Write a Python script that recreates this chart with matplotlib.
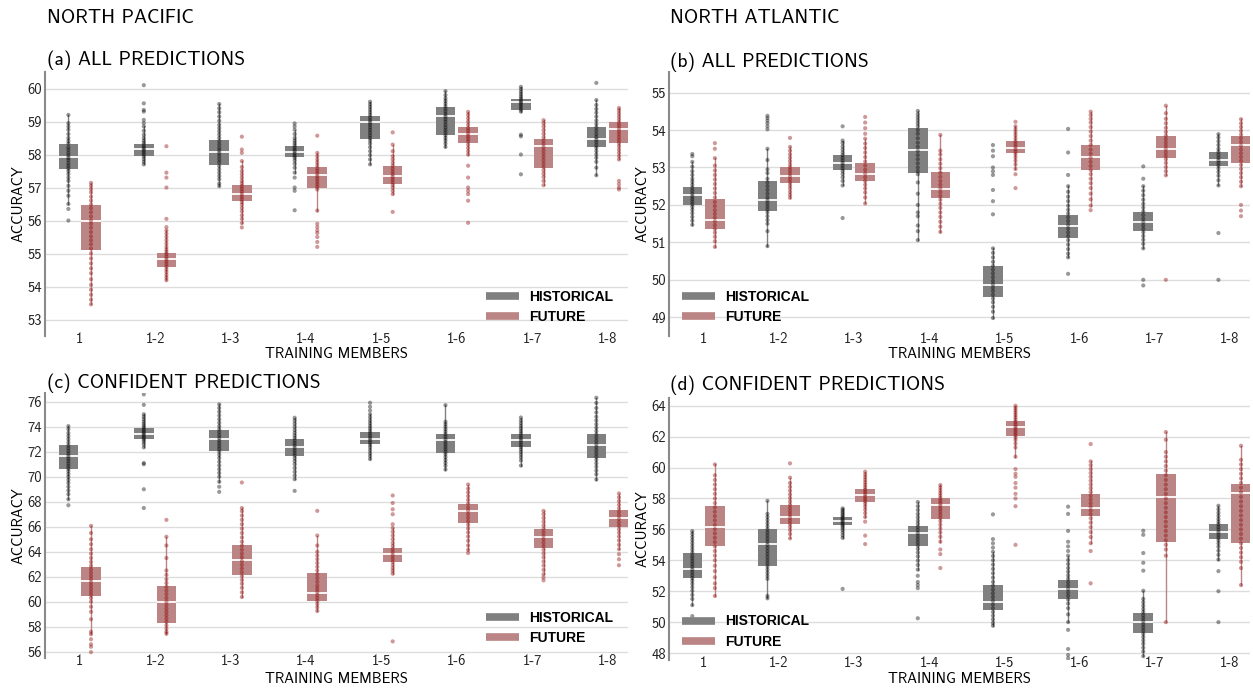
import matplotlib
matplotlib.use("Agg")
import matplotlib.pyplot as plt
from matplotlib.lines import Line2D

plt.rcParams['font.family'] = ['cmss10', 'DejaVu Sans']
plt.rcParams['axes.unicode_minus'] = False

categories = ["1", "1-2", "1-3", "1-4", "1-5", "1-6", "1-7", "1-8"]
series_names = ["HISTORICAL", "FUTURE"]

# ---------------- (a) North Pacific, all predictions ----------------
a_hist_box = [(57.56, 57.91, 58.31), (57.96, 58.16, 58.33), (57.67, 58.08, 58.45), (57.91, 58.09, 58.27),
              (58.48, 58.99, 59.16), (58.59, 59.17, 59.43), (59.36, 59.58, 59.68), (58.23, 58.46, 58.84)]
a_fut_box = [(55.12, 55.99, 56.46), (54.58, 54.83, 55.03), (56.58, 56.80, 57.09), (57.00, 57.37, 57.62),
             (57.11, 57.34, 57.66), (58.36, 58.61, 58.82), (57.59, 58.26, 58.48), (58.35, 58.76, 59.00)]
a_hist_pts = [
    [59.2, 58.95, 58.85, 58.75, 58.62, 58.5, 58.41, 58.33, 58.22, 58.14, 58.05, 57.97, 57.9, 57.83, 57.74, 57.66, 57.58, 57.5, 57.41, 57.3, 57.2, 57.05, 56.9, 56.75, 56.5, 56.35, 56.0],
    [60.1, 59.55, 59.35, 59.3, 59.05, 58.95, 58.85, 58.72, 58.6, 58.5, 58.42, 58.35, 58.28, 58.22, 58.17, 58.12, 58.06, 58.0, 57.94, 57.86, 57.78, 57.7],
    [59.53, 59.4, 59.28, 59.15, 59.02, 58.9, 58.8, 58.7, 58.6, 58.5, 58.4, 58.3, 58.2, 58.12, 58.04, 57.95, 57.85, 57.76, 57.65, 57.55, 57.45, 57.35, 57.25, 57.12, 57.04],
    [58.94, 58.85, 58.75, 58.62, 58.5, 58.42, 58.35, 58.28, 58.21, 58.15, 58.09, 58.02, 57.96, 57.9, 57.82, 57.72, 57.6, 57.45, 57.3, 57.0, 56.9, 56.31],
    [59.6, 59.52, 59.44, 59.36, 59.28, 59.2, 59.12, 59.04, 58.97, 58.9, 58.82, 58.74, 58.66, 58.58, 58.5, 58.42, 58.33, 58.22, 58.1, 57.98, 57.85, 57.7],
    [59.92, 59.8, 59.7, 59.62, 59.54, 59.46, 59.38, 59.3, 59.22, 59.15, 59.07, 58.99, 58.9, 58.82, 58.74, 58.66, 58.58, 58.5, 58.42, 58.33, 58.23],
    [60.05, 59.98, 59.9, 59.83, 59.76, 59.7, 59.64, 59.59, 59.54, 59.48, 59.42, 59.36, 59.3, 58.6, 58.55, 58.0, 57.4],
    [60.17, 59.65, 59.5, 59.38, 59.27, 59.15, 59.03, 58.92, 58.82, 58.72, 58.62, 58.53, 58.45, 58.37, 58.28, 58.2, 58.1, 58.0, 57.9, 57.78, 57.6, 57.37],
]
a_fut_pts = [
    [57.14, 57.05, 56.95, 56.85, 56.72, 56.6, 56.48, 56.37, 56.25, 56.12, 56.0, 55.9, 55.78, 55.65, 55.52, 55.4, 55.28, 55.15, 55.0, 54.85, 54.7, 54.55, 54.4, 54.22, 54.05, 53.9, 53.75, 53.6, 53.46],
    [58.25, 57.45, 57.3, 57.0, 56.05, 55.8, 55.7, 55.6, 55.5, 55.4, 55.3, 55.2, 55.12, 55.05, 54.98, 54.9, 54.83, 54.76, 54.68, 54.6, 54.52, 54.44, 54.35, 54.27, 54.19],
    [58.54, 58.15, 58.05, 57.8, 57.62, 57.5, 57.4, 57.3, 57.2, 57.12, 57.04, 56.96, 56.88, 56.8, 56.72, 56.64, 56.56, 56.48, 56.38, 56.28, 56.16, 56.05, 55.92, 55.79],
    [58.57, 58.05, 57.95, 57.85, 57.76, 57.67, 57.58, 57.5, 57.42, 57.34, 57.26, 57.18, 57.1, 57.02, 56.94, 56.3, 55.9, 55.8, 55.7, 55.62, 55.5, 55.35, 55.2],
    [58.67, 58.3, 58.1, 57.95, 57.85, 57.75, 57.66, 57.57, 57.48, 57.4, 57.32, 57.24, 57.16, 57.08, 57.0, 56.9, 56.8, 56.26],
    [59.29, 59.2, 59.1, 59.0, 58.9, 58.8, 58.72, 58.64, 58.56, 58.48, 58.4, 58.3, 58.2, 58.1, 58.0, 57.66, 57.3, 57.0, 56.9, 56.8, 56.6, 55.93],
    [59.04, 58.95, 58.85, 58.74, 58.63, 58.52, 58.42, 58.32, 58.22, 58.12, 58.02, 57.92, 57.82, 57.72, 57.62, 57.52, 57.42, 57.32, 57.2, 57.07],
    [59.41, 59.33, 59.24, 59.15, 59.06, 58.97, 58.88, 58.79, 58.7, 58.61, 58.52, 58.43, 58.34, 58.25, 58.15, 58.05, 57.95, 57.85, 57.2, 57.1, 57.0, 56.94],
]

# ---------------- (b) North Atlantic, all predictions ----------------
b_hist_box = [(52.00, 52.26, 52.48), (51.85, 52.12, 52.64), (52.93, 53.13, 53.34), (52.86, 53.48, 54.06),
              (49.53, 49.87, 50.38), (51.11, 51.43, 51.73), (51.31, 51.55, 51.81), (53.04, 53.21, 53.41)]
b_fut_box = [(51.35, 51.61, 52.15), (52.58, 52.76, 53.02), (52.65, 52.83, 53.12), (52.19, 52.43, 52.87),
             (53.40, 53.52, 53.72), (52.94, 53.29, 53.61), (53.26, 53.50, 53.85), (53.11, 53.59, 53.83)]
b_hist_pts = [
    [53.36, 53.3, 53.15, 53.02, 52.9, 52.8, 52.7, 52.62, 52.54, 52.46, 52.38, 52.3, 52.23, 52.16, 52.09, 52.02, 51.95, 51.87, 51.78, 51.68, 51.58, 51.47],
    [54.38, 54.32, 54.25, 54.18, 54.1, 54.02, 53.5, 53.2, 52.95, 52.85, 52.7, 52.6, 52.5, 52.4, 52.3, 52.2, 52.12, 52.04, 51.96, 51.88, 51.8, 51.7, 51.6, 51.5, 51.3, 50.9],
    [54.1, 53.72, 53.65, 53.56, 53.48, 53.4, 53.33, 53.26, 53.19, 53.12, 53.05, 52.98, 52.91, 52.83, 52.74, 52.64, 52.52, 51.65],
    [54.51, 54.42, 54.34, 54.26, 54.18, 54.1, 54.0, 53.9, 53.78, 53.66, 53.55, 53.44, 53.33, 53.22, 53.11, 53.0, 52.9, 52.82, 52.6, 52.3, 52.0, 51.8, 51.7, 51.45, 51.3, 51.06],
    [53.6, 53.45, 53.3, 53.0, 52.9, 52.8, 52.4, 52.1, 51.75, 50.84, 50.72, 50.6, 50.48, 50.37, 50.27, 50.17, 50.07, 49.97, 49.88, 49.79, 49.7, 49.6, 49.5, 49.4, 49.28, 49.15, 48.98],
    [54.03, 53.4, 52.8, 52.5, 52.35, 52.22, 52.1, 51.98, 51.87, 51.77, 51.67, 51.57, 51.47, 51.37, 51.27, 51.17, 51.06, 50.94, 50.82, 50.7, 50.6, 50.16],
    [53.03, 52.7, 52.5, 52.38, 52.26, 52.14, 52.03, 51.93, 51.83, 51.73, 51.63, 51.54, 51.45, 51.36, 51.27, 51.17, 51.07, 50.96, 50.84, 50.0, 49.85],
    [53.89, 53.8, 53.7, 53.6, 53.5, 53.42, 53.34, 53.26, 53.19, 53.12, 53.05, 52.97, 52.88, 52.78, 52.66, 52.52, 51.25, 50.0],
]
b_fut_pts = [
    [53.65, 53.5, 53.25, 53.05, 52.92, 52.8, 52.68, 52.56, 52.44, 52.32, 52.2, 52.08, 51.97, 51.86, 51.76, 51.66, 51.56, 51.46, 51.36, 51.26, 51.15, 51.03, 50.88],
    [53.79, 53.55, 53.45, 53.35, 53.26, 53.17, 53.08, 53.0, 52.92, 52.84, 52.76, 52.68, 52.6, 52.52, 52.44, 52.35, 52.27, 52.19],
    [54.35, 54.2, 54.05, 53.9, 53.77, 53.64, 53.52, 53.4, 53.28, 53.16, 53.05, 52.94, 52.84, 52.74, 52.64, 52.54, 52.44, 52.33, 52.2, 52.04],
    [53.87, 53.45, 53.35, 53.22, 53.1, 52.98, 52.86, 52.75, 52.64, 52.54, 52.44, 52.34, 52.24, 52.14, 52.03, 51.92, 51.8, 51.68, 51.55, 51.42, 51.28],
    [54.22, 54.1, 54.02, 53.94, 53.86, 53.78, 53.7, 53.63, 53.56, 53.49, 53.42, 53.35, 53.27, 53.18, 53.08, 52.96, 52.82, 52.45],
    [54.49, 54.4, 54.3, 54.2, 54.08, 53.96, 53.84, 53.72, 53.6, 53.48, 53.37, 53.26, 53.15, 53.04, 52.93, 52.82, 52.7, 52.58, 52.45, 52.3, 52.15, 51.98, 51.86],
    [54.65, 54.45, 54.3, 54.18, 54.06, 53.95, 53.85, 53.76, 53.67, 53.58, 53.49, 53.4, 53.31, 53.22, 53.12, 53.01, 52.9, 52.79, 50.0],
    [54.29, 54.18, 54.08, 53.98, 53.88, 53.78, 53.68, 53.58, 53.48, 53.38, 53.28, 53.18, 53.07, 52.96, 52.85, 52.74, 52.62, 52.5, 52.0, 51.85, 51.7],
]

# ---------------- (c) North Pacific, confident predictions ----------------
c_hist_box = [(70.66, 71.67, 72.53), (73.06, 73.41, 73.89), (72.07, 73.00, 73.78), (71.70, 72.42, 73.06),
              (72.66, 73.06, 73.60), (71.94, 72.98, 73.46), (72.40, 72.93, 73.46), (71.51, 72.53, 73.46)]
c_fut_box = [(60.49, 61.63, 62.78), (58.30, 60.00, 61.23), (62.11, 63.32, 64.57), (60.09, 60.70, 62.33),
             (63.18, 63.80, 64.28), (66.31, 67.27, 67.80), (64.30, 65.16, 65.80), (65.99, 66.73, 67.32)]
c_hist_pts = [
    [74.05, 73.8, 73.5, 73.25, 73.0, 72.75, 72.5, 72.28, 72.06, 71.85, 71.65, 71.45, 71.25, 71.05, 70.85, 70.65, 70.45, 70.22, 70.0, 69.75, 69.5, 69.2, 68.9, 68.6, 68.2, 67.72],
    [76.59, 75.75, 75.0, 74.8, 74.6, 74.4, 74.22, 74.05, 73.9, 73.76, 73.62, 73.49, 73.36, 73.23, 73.1, 72.96, 72.8, 72.6, 72.35, 71.1, 71.0, 69.0, 67.5],
    [75.79, 75.5, 75.2, 74.9, 74.6, 74.32, 74.05, 73.8, 73.56, 73.32, 73.1, 72.88, 72.66, 72.44, 72.22, 72.0, 71.75, 71.5, 71.2, 70.9, 70.6, 70.3, 70.0, 69.6, 69.2, 68.79],
    [74.72, 74.5, 74.25, 74.0, 73.75, 73.52, 73.3, 73.1, 72.9, 72.7, 72.5, 72.3, 72.1, 71.9, 71.7, 71.48, 71.25, 71.0, 70.7, 70.4, 70.1, 69.8, 68.87],
    [75.92, 75.6, 75.3, 75.0, 74.75, 74.5, 74.28, 74.06, 73.86, 73.66, 73.47, 73.28, 73.1, 72.92, 72.74, 72.55, 72.35, 72.12, 71.88, 71.65, 71.41],
    [75.73, 74.4, 74.2, 74.0, 73.8, 73.6, 73.4, 73.2, 73.0, 72.8, 72.6, 72.4, 72.2, 72.0, 71.8, 71.58, 71.35, 71.12, 70.88, 70.58],
    [74.74, 74.5, 74.28, 74.06, 73.86, 73.66, 73.47, 73.28, 73.1, 72.92, 72.74, 72.56, 72.38, 72.2, 72.0, 71.78, 71.55, 71.3, 70.9],
    [76.32, 75.9, 75.5, 75.15, 74.8, 74.5, 74.2, 73.92, 73.65, 73.38, 73.12, 72.86, 72.6, 72.35, 72.1, 71.85, 71.6, 71.35, 71.08, 70.8, 70.5, 70.2, 69.78],
]
c_fut_pts = [
    [66.07, 65.5, 65.0, 64.6, 64.2, 63.85, 63.5, 63.18, 62.88, 62.6, 62.33, 62.06, 61.8, 61.55, 61.3, 61.05, 60.8, 60.55, 60.3, 60.0, 59.6, 59.2, 58.6, 57.6, 57.4, 57.0, 56.6, 56.4, 55.97],
    [66.55, 65.2, 64.5, 63.5, 62.5, 62.15, 61.8, 61.5, 61.2, 60.9, 60.6, 60.3, 60.0, 59.72, 59.45, 59.18, 58.92, 58.66, 58.4, 58.12, 57.85, 57.6, 57.44],
    [69.54, 67.5, 67.25, 66.9, 66.55, 66.2, 65.85, 65.5, 65.15, 64.8, 64.48, 64.16, 63.85, 63.55, 63.25, 62.95, 62.65, 62.35, 62.05, 61.75, 61.45, 61.12, 60.75, 60.38],
    [67.27, 65.3, 64.5, 64.0, 63.7, 63.4, 63.1, 62.8, 62.5, 62.2, 61.9, 61.6, 61.3, 61.05, 60.8, 60.55, 60.3, 60.05, 59.8, 59.55, 59.26],
    [68.5, 67.9, 67.4, 67.0, 66.2, 65.9, 65.6, 65.3, 65.0, 64.7, 64.45, 64.2, 63.95, 63.7, 63.45, 63.2, 62.95, 62.7, 62.48, 62.25, 56.83],
    [69.38, 69.05, 68.75, 68.45, 68.15, 67.85, 67.55, 67.28, 67.0, 66.72, 66.44, 66.16, 65.86, 65.55, 65.22, 64.88, 64.5, 64.15, 63.9],
    [67.27, 67.0, 66.7, 66.4, 66.1, 65.82, 65.55, 65.28, 65.0, 64.72, 64.44, 64.15, 63.85, 63.55, 63.22, 62.9, 62.55, 62.2, 61.95, 61.71],
    [68.66, 68.35, 68.05, 67.75, 67.46, 67.18, 66.9, 66.62, 66.35, 66.08, 65.8, 65.52, 65.22, 64.9, 64.55, 64.2, 63.8, 63.4, 62.92],
]

# ---------------- (d) North Atlantic, confident predictions ----------------
d_hist_box = [(52.83, 53.41, 54.45), (53.65, 55.05, 56.02), (56.26, 56.54, 56.82), (54.94, 55.78, 56.22),
              (50.76, 51.32, 52.38), (51.49, 52.12, 52.72), (49.32, 50.03, 50.61), (55.35, 55.85, 56.34)]
d_fut_box = [(54.92, 56.17, 57.53), (56.34, 56.82, 57.57), (57.79, 58.22, 58.61), (56.69, 57.57, 58.00),
             (62.06, 62.64, 62.99), (56.86, 57.40, 58.29), (55.18, 58.11, 59.56), (55.10, 58.37, 58.93)]
d_hist_pts = [
    [55.89, 55.7, 55.5, 55.3, 55.1, 54.9, 54.7, 54.5, 54.3, 54.12, 53.94, 53.76, 53.58, 53.4, 53.22, 53.04, 52.86, 52.68, 52.48, 52.26, 52.02, 51.76, 51.5, 51.1, 50.39],
    [57.85, 57.0, 56.8, 56.6, 56.4, 56.2, 56.0, 55.8, 55.6, 55.4, 55.2, 55.0, 54.8, 54.6, 54.4, 54.2, 54.0, 53.8, 53.6, 53.4, 53.2, 53.0, 52.8, 51.7, 51.54],
    [57.36, 57.25, 57.14, 57.03, 56.92, 56.82, 56.72, 56.62, 56.52, 56.42, 56.32, 56.22, 56.1, 55.96, 55.8, 55.62, 55.45, 52.15],
    [57.77, 57.5, 57.25, 57.0, 56.78, 56.56, 56.36, 56.16, 55.96, 55.76, 55.56, 55.36, 55.16, 54.96, 54.74, 54.5, 54.25, 53.98, 53.7, 53.4, 53.0, 52.6, 52.4, 52.2, 50.25],
    [56.97, 55.37, 55.1, 54.82, 54.55, 54.28, 54.0, 53.72, 53.44, 53.16, 52.88, 52.6, 52.35, 52.1, 51.86, 51.62, 51.38, 51.14, 50.9, 50.66, 50.42, 50.18, 49.95, 49.77],
    [57.47, 57.0, 55.9, 55.2, 54.9, 54.6, 54.3, 54.02, 53.76, 53.5, 53.26, 53.02, 52.8, 52.58, 52.36, 52.14, 51.92, 51.7, 51.46, 51.2, 50.9, 50.5, 50.0, 49.5, 48.26, 47.87, 47.65],
    [55.91, 55.65, 54.47, 53.84, 53.33, 52.03, 51.5, 51.28, 51.06, 50.85, 50.65, 50.45, 50.25, 50.05, 49.85, 49.65, 49.45, 49.25, 49.04, 48.82, 48.6, 48.35, 48.1, 47.8],
    [57.53, 57.3, 57.08, 56.88, 56.68, 56.5, 56.33, 56.16, 55.99, 55.82, 55.65, 55.48, 55.3, 55.1, 54.88, 54.62, 54.35, 54.05, 53.3, 52.0, 50.0],
]
d_fut_pts = [
    [60.2, 59.5, 59.2, 58.9, 58.6, 58.3, 58.0, 57.7, 57.42, 57.14, 56.86, 56.58, 56.3, 56.02, 55.74, 55.46, 55.18, 54.9, 54.6, 54.3, 54.0, 53.65, 53.3, 52.9, 52.5, 52.2, 51.69],
    [60.27, 59.35, 59.0, 58.75, 58.5, 58.26, 58.03, 57.8, 57.58, 57.37, 57.16, 56.96, 56.76, 56.56, 56.36, 56.16, 55.95, 55.7, 55.42],
    [59.73, 59.55, 59.38, 59.21, 59.04, 58.88, 58.72, 58.57, 58.42, 58.27, 58.12, 57.97, 57.82, 57.66, 57.48, 57.28, 57.05, 56.8, 56.5, 55.6, 55.05],
    [58.87, 58.7, 58.52, 58.35, 58.18, 58.01, 57.84, 57.67, 57.5, 57.32, 57.14, 56.95, 56.75, 56.54, 56.3, 56.05, 55.8, 55.52, 55.2, 54.7, 54.4, 53.5],
    [64.0, 63.85, 63.7, 63.55, 63.4, 63.25, 63.1, 62.95, 62.8, 62.66, 62.52, 62.38, 62.24, 62.1, 61.95, 61.78, 61.55, 61.3, 60.7, 59.9, 59.6, 59.4, 59.0, 58.7, 58.3, 58.0, 57.5, 55.0],
    [61.52, 60.4, 60.15, 59.9, 59.65, 59.4, 59.15, 58.9, 58.66, 58.42, 58.18, 57.94, 57.7, 57.46, 57.22, 56.98, 56.72, 56.44, 56.14, 55.82, 55.5, 55.1, 54.6, 52.51],
    [62.3, 61.8, 61.0, 60.7, 60.4, 60.1, 59.8, 59.5, 59.2, 58.9, 58.6, 58.3, 58.0, 57.7, 57.4, 57.1, 56.8, 56.5, 56.2, 55.9, 55.6, 55.3, 55.0, 54.7, 54.3, 50.0],
    [61.41, 60.5, 60.2, 59.9, 59.6, 59.3, 59.0, 58.7, 58.4, 58.1, 57.8, 57.5, 57.2, 56.9, 56.6, 56.3, 56.0, 55.7, 55.4, 55.1, 54.8, 54.5, 54.2, 53.9, 53.5, 52.4],
]

a_ylim, b_ylim, c_ylim, d_ylim = (52.5, 60.5), (48.5, 55.55), (55.5, 76.7), (47.55, 64.5)
a_yticks = [53, 54, 55, 56, 57, 58, 59, 60]
b_yticks = [49, 50, 51, 52, 53, 54, 55]
c_yticks = [56, 58, 60, 62, 64, 66, 68, 70, 72, 74, 76]
d_yticks = [48, 50, 52, 54, 56, 58, 60, 62, 64]

W, H = 1253, 689
fig = plt.figure(figsize=(W / 100, H / 100), dpi=100)

HIST_BOX = '#808080'
FUT_BOX = '#bb8585'
HIST_PT = '#000000'
FUT_PT = '#8b0000'


def px_axes(l, t, r, b):
    return fig.add_axes([l / W, 1 - b / H, (r - l) / W, (b - t) / H])


def tukey(q1, q3, p):
    iqr = q3 - q1
    lo = min(v for v in p if v >= q1 - 1.5 * iqr)
    hi = max(v for v in p if v <= q3 + 1.5 * iqr)
    return lo, hi


def draw_panel(ax, hist_box, fut_box, hist_pts, fut_pts, ylim, yticks, leg_xy, title, title_xy):
    xs = list(range(1, len(categories) + 1))
    off, wid = 0.15, 0.26
    for boxes, pts, dx, bc, pc in [(hist_box, hist_pts, -off, HIST_BOX, HIST_PT),
                                    (fut_box, fut_pts, off, FUT_BOX, FUT_PT)]:
        stats = []
        for (q1, med, q3), p in zip(boxes, pts):
            lo, hi = tukey(q1, q3, p)
            stats.append(dict(q1=q1, med=med, q3=q3, whislo=lo, whishi=hi, fliers=[]))
        pos = [x + dx for x in xs]
        ax.bxp(stats, positions=pos, widths=wid, patch_artist=True, showcaps=False,
               showfliers=False, manage_ticks=False,
               boxprops=dict(facecolor=bc, edgecolor='none', linewidth=0),
               whiskerprops=dict(color=bc, linewidth=1.0),
               medianprops=dict(color='white', linewidth=1.3), zorder=2)
        for x, p in zip(pos, pts):
            ax.scatter([x] * len(p), p, s=9, color=pc, alpha=0.4, edgecolors='none', zorder=3)

    ax.set_xlim(0.54, 8.27)
    ax.set_ylim(*ylim)
    ax.set_xticks(xs)
    ax.set_xticklabels(categories)
    ax.set_yticks(yticks)
    ax.tick_params(axis='both', length=0, labelsize=10.5, colors='#222222')
    ax.tick_params(axis='x', pad=-3)
    ax.tick_params(axis='y', pad=2)
    ax.grid(axis='y', color='#dddddd', linewidth=1.0)
    ax.set_axisbelow(True)
    for s in ['top', 'right', 'bottom']:
        ax.spines[s].set_visible(False)
    ax.spines['left'].set_color('#8a8a8a')
    ax.spines['left'].set_linewidth(1.5)
    ax.set_ylabel('ACCURACY', fontsize=10.5)
    ax.set_xlabel('TRAINING MEMBERS', fontsize=10.5)

    handles = [Line2D([0], [0], color=HIST_BOX, lw=5.5, solid_capstyle='butt'),
               Line2D([0], [0], color=FUT_BOX, lw=5.5, solid_capstyle='butt')]
    ax.legend(handles, series_names, loc='lower left', bbox_to_anchor=leg_xy, frameon=False,
              prop=dict(family='Liberation Sans', weight='bold', size=10), handlelength=2.4,
              handletextpad=0.7, borderpad=0, borderaxespad=0, labelspacing=0.45)
    fig.text(title_xy[0] / W, 1 - title_xy[1] / H, title, fontsize=14, ha='left', va='center')


ax_a = px_axes(45, 72, 628, 336)
ax_b = px_axes(669, 72, 1250, 336)
ax_c = px_axes(45, 393, 628, 658)
ax_d = px_axes(669, 398, 1250, 660)

draw_panel(ax_a, a_hist_box, a_fut_box, a_hist_pts, a_fut_pts, a_ylim, a_yticks, (0.756, 0.045),
           '(a) ALL PREDICTIONS', (47, 60))
draw_panel(ax_b, b_hist_box, b_fut_box, b_hist_pts, b_fut_pts, b_ylim, b_yticks, (0.022, 0.045),
           '(b) ALL PREDICTIONS', (670, 62))
draw_panel(ax_c, c_hist_box, c_fut_box, c_hist_pts, c_fut_pts, c_ylim, c_yticks, (0.756, 0.05),
           '(c) CONFIDENT PREDICTIONS', (47, 383))
draw_panel(ax_d, d_hist_box, d_fut_box, d_hist_pts, d_fut_pts, d_ylim, d_yticks, (0.022, 0.043),
           '(d) CONFIDENT PREDICTIONS', (670, 385))

for ax, ytop in [(ax_a, -0.042), (ax_b, -0.042), (ax_c, -0.053), (ax_d, -0.046)]:
    ax.xaxis.set_label_coords(0.5, ytop)
    ax.yaxis.set_label_coords(-0.034, 0.5)

fig.text(47 / W, 1 - 18 / H, 'NORTH PACIFIC', fontsize=14, ha='left', va='center')
fig.text(670 / W, 1 - 18 / H, 'NORTH ATLANTIC', fontsize=14, ha='left', va='center')

fig.savefig('out.png', dpi=100)
